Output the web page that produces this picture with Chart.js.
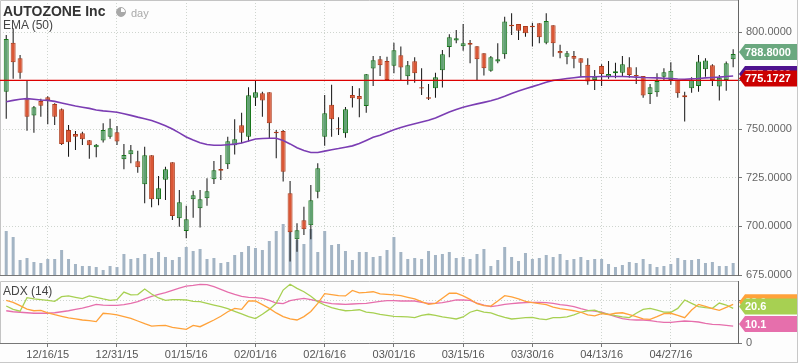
<!DOCTYPE html>
<html>
<head>
<meta charset="utf-8">
<script src="https://cdn.jsdelivr.net/npm/chart.js@4.4.1/dist/chart.umd.min.js"></script>
<style>
    html, body { margin: 0; padding: 0; background: #fff; }
    #wrap {
        position: relative; width: 798px; height: 363px; overflow: hidden;
        background: #fdfdfd; box-sizing: border-box;
        border-right: 1px solid #c8c8c8; border-bottom: 1px solid #c8c8c8;
    }
    canvas { position: absolute; left: 0; }
    #PriceChart { top: 0; }
    #AdxChart { top: 278px; }
    .lbl { position: absolute; font-family: "Liberation Sans", Arial, sans-serif; white-space: nowrap; }
    .clock {
        position: absolute; left: 116px; top: 7px; width: 8px; height: 8px; border-radius: 50%;
        border: 1.5px solid #a8a8a8; background: conic-gradient(#fdfdfd 0 25%, #a8a8a8 25% 100%);
    }
</style>
</head>
<body>
<div id="wrap">
    <canvas id="PriceChart" width="798" height="278"></canvas>
    <canvas id="AdxChart" width="798" height="85"></canvas>
    <div class="lbl" style="left:3px;top:3px;font-weight:bold;font-size:14px;line-height:16px;color:#333;">AUTOZONE Inc</div>
    <div class="clock"></div>
    <div class="lbl" style="left:131px;top:5px;font-size:11px;line-height:16px;color:#aaa;">day</div>
    <div class="lbl" style="left:3px;top:18px;font-size:12px;line-height:14px;color:#444;">EMA (50)</div>
    <div class="lbl" style="left:3px;top:284px;font-size:12px;line-height:14px;color:#444;">ADX (14)</div>
</div>
<script>
// trading day index of each date label
const tickIdx = [6, 16, 26, 36, 46, 56, 66, 76, 86, 96];
const tickLabels = ["12/16/15", "12/31/15", "01/15/16", "02/01/16", "02/16/16",
    "03/01/16", "03/15/16", "03/30/16", "04/13/16", "04/27/16"];
const priceTicks = [675, 700, 725, 750, 775, 800];
const adxTicks = [0, 25];

const open = [769.4, 794.6, 786.6, 765.5, 757.1, 764.6, 766.5, 763.1, 760.4, 749.7,
    747.6, 748.0, 744.4, 740.8, 744.2, 746.2, 748.5, 734.6, 737.2, 733.6,
    721.7, 736.7, 714.0, 724.0, 733.1, 704.2, 697.7, 714.0, 709.4, 714.5,
    724.3, 729.6, 732.0, 741.8, 752.1, 746.2, 766.3, 768.6, 769.1, 748.7,
    749.2, 717.1, 693.4, 703.2, 700.6, 717.9, 746.2, 762.6, 750.6, 748.0,
    767.7, 767.2, 762.0, 781.3, 786.1, 785.2, 782.8, 788.2, 777.3, 785.1,
    771.7, 766.5, 771.2, 780.4, 792.4, 795.7, 792.8, 794.5, 792.8, 789.2,
    780.2, 784.9, 788.7, 803.8, 804.3, 803.2, 803.4, 804.6, 794.6, 803.6,
    790.4, 787.4, 787.8, 786.6, 783.2, 775.4, 782.6, 777.1, 778.9, 779.2,
    782.0, 778.0, 777.5, 768.2, 769.1, 777.1, 775.4, 775.4, 767.6, 771.2,
    772.3, 780.9, 783.0, 772.0, 775.4, 786.1];
const high = [798.6, 802.1, 788.3, 775.1, 762.0, 765.7, 767.0, 763.4, 760.7, 752.3,
    749.2, 748.8, 744.5, 742.5, 753.1, 755.4, 751.7, 742.5, 742.0, 739.0,
    741.1, 736.7, 726.0, 730.8, 733.1, 718.8, 710.6, 718.4, 718.8, 724.8,
    733.7, 736.8, 746.2, 755.2, 758.6, 771.7, 775.3, 769.4, 769.1, 749.7,
    749.7, 723.4, 701.6, 710.2, 721.4, 732.5, 767.7, 772.9, 756.2, 761.5,
    772.3, 771.2, 778.5, 787.8, 787.8, 787.4, 794.6, 792.6, 785.2, 787.1,
    781.5, 773.4, 779.2, 790.9, 799.0, 801.2, 804.3, 796.0, 792.8, 789.2,
    787.8, 794.3, 808.0, 809.8, 804.3, 803.2, 804.9, 804.6, 809.8, 803.6,
    793.5, 790.4, 790.4, 786.6, 786.6, 780.6, 783.5, 785.2, 784.3, 787.8,
    787.1, 782.0, 777.5, 773.4, 778.9, 781.5, 784.6, 775.4, 769.3, 776.8,
    788.3, 786.6, 783.5, 778.0, 784.9, 791.2];
const low = [755.4, 776.0, 776.0, 749.3, 748.3, 756.5, 752.6, 752.3, 742.0, 735.9,
    739.4, 742.0, 734.9, 735.6, 743.2, 745.1, 742.0, 729.5, 732.5, 727.7,
    711.9, 709.9, 710.9, 713.6, 703.3, 699.9, 693.9, 704.5, 699.4, 710.7,
    721.9, 723.9, 729.6, 737.0, 742.8, 743.7, 762.0, 756.5, 745.4, 735.1,
    723.1, 681.9, 687.0, 695.6, 693.4, 714.5, 741.5, 746.2, 747.1, 745.7,
    761.3, 756.2, 758.6, 772.3, 777.5, 775.2, 778.9, 775.4, 773.0, 774.0,
    767.7, 765.1, 766.3, 771.5, 787.1, 794.3, 790.5, 784.0, 775.4, 777.7,
    779.7, 784.0, 786.3, 798.6, 796.0, 797.7, 792.6, 794.3, 793.8, 787.4,
    786.6, 783.5, 781.5, 777.1, 772.9, 770.3, 772.3, 776.0, 776.3, 777.1,
    776.6, 773.4, 766.3, 763.1, 766.8, 775.4, 772.9, 766.3, 754.0, 768.9,
    769.4, 777.1, 772.3, 764.8, 769.9, 782.0];
const close = [796.5, 784.6, 779.2, 756.5, 761.4, 762.2, 765.0, 756.5, 742.5, 743.4,
    746.2, 744.9, 741.8, 742.1, 749.7, 750.6, 743.7, 736.8, 739.2, 730.5,
    736.7, 714.0, 719.7, 729.5, 705.4, 712.5, 703.7, 716.1, 714.0, 718.1,
    728.9, 728.7, 743.9, 744.9, 748.3, 767.6, 769.1, 764.8, 753.1, 748.0,
    728.2, 697.0, 698.0, 698.6, 713.5, 730.0, 758.3, 755.2, 750.1, 760.4,
    766.0, 765.5, 778.4, 785.6, 783.0, 775.4, 790.7, 781.8, 783.0, 778.9,
    771.0, 765.8, 776.8, 788.7, 797.4, 796.9, 794.3, 793.6, 786.1, 781.5,
    787.1, 786.1, 805.5, 803.1, 800.8, 799.5, 802.6, 797.4, 805.8, 794.3,
    789.2, 789.2, 786.4, 784.3, 774.6, 777.1, 778.5, 778.5, 779.9, 783.5,
    778.0, 777.5, 767.4, 771.7, 774.9, 779.4, 780.2, 768.6, 766.5, 775.4,
    784.9, 785.4, 775.4, 776.6, 784.0, 788.8];
// thousands of shares
const volume = [880, 760, 300, 340, 260, 240, 320, 320, 500, 320,
    220, 180, 180, 160, 100, 180, 160, 420, 320, 340,
    420, 340, 460, 360, 300, 360, 560, 480, 520, 320,
    340, 240, 260, 400, 460, 580, 540, 500, 680, 880,
    1020, 900, 700, 620, 920, 460, 880, 600, 620, 480,
    300, 460, 460, 360, 380, 500, 760, 460, 320, 340,
    320, 480, 400, 420, 460, 340, 360, 320, 420, 520,
    180, 300, 560, 360, 280, 440, 320, 340, 400, 360,
    420, 300, 320, 360, 300, 320, 320, 220, 160, 200,
    260, 240, 320, 220, 160, 180, 220, 340, 300, 300,
    320, 240, 260, 180, 180, 240];
const ema50 = [764.2, 764.9, 765.5, 765.8, 765.5, 765.1, 764.9, 764.4, 763.6, 762.8,
    762.0, 761.4, 760.8, 760.0, 759.5, 759.2, 758.8, 758.0, 757.2, 756.3,
    755.5, 754.5, 753.3, 751.9, 750.2, 748.2, 746.1, 744.5, 743.1, 742.2,
    741.8, 741.8, 742.1, 742.4, 743.0, 744.0, 745.0, 745.3, 745.4, 745.4,
    744.2, 742.5, 740.5, 739.1, 738.1, 738.1, 738.8, 739.5, 740.1, 740.8,
    741.5, 742.7, 744.3, 745.9, 747.0, 748.4, 749.8, 751.0, 752.0, 752.9,
    753.8, 754.7, 755.9, 757.4, 758.9, 760.2, 761.4, 762.3, 763.1, 763.9,
    764.7, 765.8, 767.0, 768.5, 769.8, 770.9, 772.0, 773.1, 774.3, 775.2,
    775.7, 776.2, 776.6, 777.0, 777.1, 777.1, 777.2, 777.2, 777.2, 777.2,
    777.1, 776.9, 776.7, 776.6, 776.5, 776.3, 776.1, 775.9, 775.8, 776.0,
    776.2, 776.5, 776.7, 776.9, 777.2, 777.5];
const refLevel = 775.1727;

const adxOrange = [25.4, 24.2, 22.2, 20.2, 19.2, 19.4, 18.0, 16.9, 15.9, 14.9,
    14.3, 13.7, 13.3, 12.7, 17.7, 17.3, 16.7, 15.7, 14.7, 13.1,
    11.5, 10.1, 10.3, 10.5, 9.3, 8.7, 8.1, 10.5, 9.7, 11.7,
    13.7, 15.9, 18.6, 20.6, 20.0, 25.0, 25.0, 22.8, 20.6, 17.9,
    15.7, 14.3, 13.7, 15.7, 18.8, 23.6, 29.4, 28.8, 28.2, 28.0,
    31.3, 29.8, 30.1, 30.5, 29.2, 29.0, 28.6, 28.2, 27.2, 26.2,
    24.6, 23.0, 23.6, 26.6, 29.6, 29.6, 28.0, 26.0, 23.4, 22.2,
    22.0, 25.0, 28.2, 27.4, 26.2, 24.8, 24.0, 23.4, 22.8, 21.4,
    20.4, 19.8, 19.2, 18.3, 16.7, 16.1, 17.5, 16.9, 17.7, 18.0,
    16.9, 15.7, 14.3, 14.1, 15.7, 17.5, 17.7, 16.5, 15.1, 19.6,
    23.0, 21.8, 20.4, 19.4, 21.2, 23.0];
const adxGreen = [22.0, 20.0, 18.9, 27.0, 26.2, 25.8, 25.4, 24.8, 27.6, 28.0,
    27.2, 26.4, 28.0, 27.2, 26.2, 25.4, 25.8, 30.3, 28.6, 28.8,
    32.1, 29.2, 26.8, 25.4, 25.8, 25.8, 25.6, 24.8, 24.6, 23.6,
    22.6, 21.6, 20.4, 18.8, 17.3, 15.7, 14.5, 17.1, 20.0, 23.6,
    31.5, 35.0, 32.5, 30.5, 27.8, 24.6, 22.6, 21.0, 20.0, 19.2,
    19.4, 19.8, 18.4, 17.9, 17.1, 16.5, 15.9, 15.7, 15.5, 15.1,
    16.5, 17.1, 16.5, 15.5, 14.9, 14.3, 15.5, 18.3, 19.6, 18.4,
    17.9, 16.5, 15.3, 14.3, 14.7, 15.1, 15.3, 14.3, 13.9, 15.1,
    15.1, 15.5, 16.7, 18.3, 19.2, 19.6, 17.9, 17.1, 16.3, 15.5,
    15.1, 17.7, 20.0, 20.6, 19.6, 18.4, 18.3, 20.6, 25.6, 23.6,
    21.6, 21.0, 20.6, 23.8, 22.6, 20.6];
const adxPink = [19.2, 18.6, 18.3, 18.0, 17.7, 17.7, 17.7, 18.0, 18.6, 19.2,
    20.0, 20.8, 21.8, 23.0, 22.6, 22.4, 22.4, 22.8, 23.6, 24.6,
    26.2, 27.8, 29.0, 30.0, 31.3, 32.7, 33.9, 34.3, 34.9, 34.7,
    33.5, 31.9, 30.3, 29.0, 27.8, 27.2, 27.0, 26.6, 25.4, 23.8,
    23.4, 25.2, 26.0, 26.6, 25.8, 25.0, 24.2, 23.4, 23.2, 23.0,
    23.2, 23.4, 23.6, 24.2, 24.8, 25.2, 25.2, 25.0, 25.0, 25.0,
    24.2, 23.6, 23.6, 24.0, 24.8, 25.6, 25.6, 25.4, 23.8, 22.6,
    21.6, 22.2, 23.0, 23.4, 23.8, 24.0, 24.2, 24.2, 24.0, 23.6,
    22.8, 22.4, 21.6, 20.4, 19.4, 19.0, 18.3, 17.1, 15.7, 14.5,
    13.9, 13.7, 13.7, 13.3, 12.7, 12.3, 12.3, 12.7, 13.1, 12.9,
    12.5, 11.7, 11.1, 10.9, 10.5, 10.1];

const X_MIN = -0.9;
const X_MAX = 105.7;
const FONT = '"Liberation Sans", Arial, sans-serif';
const UP_FILL = "#62a173", UP_LINE = "#17761a";
const DN_FILL = "#da5736", DN_LINE = "#ad3b1b";

Chart.defaults.font.family = FONT;

const idx = close.map((c, i) => i);
const isUp = i => close[i] >= open[i];
const last = close.length - 1;

// left + top edge of each panel
const framePlugin = {
    id: "frame",
    beforeDatasetsDraw(chart) {
        const { ctx, chartArea: a } = chart;
        ctx.save();
        ctx.strokeStyle = "#c4c4c4";
        ctx.lineWidth = 1;
        ctx.beginPath();
        ctx.moveTo(a.left + 0.5, a.bottom);
        ctx.lineTo(a.left + 0.5, a.top + 0.5);
        ctx.lineTo(a.right, a.top + 0.5);
        ctx.stroke();
        ctx.restore();
    },
};

// value tags on the right axis
const tagPlugin = {
    id: "tags",
    afterDraw(chart, args, opts) {
        const { ctx, chartArea } = chart;
        const yScale = chart.scales.y;
        (opts.items || []).forEach(t => {
            const py = yScale.getPixelForValue(t.value) - 2;
            const x0 = chartArea.right + 1, x1 = chart.width, h = 16;
            ctx.save();
            ctx.fillStyle = t.color;
            ctx.beginPath();
            ctx.moveTo(x0, py);
            ctx.lineTo(x0 + 6, py - h / 2);
            ctx.lineTo(x1, py - h / 2);
            ctx.lineTo(x1, py + h / 2);
            ctx.lineTo(x0 + 6, py + h / 2);
            ctx.closePath();
            ctx.fill();
            ctx.fillStyle = "#fff";
            ctx.font = "bold 11px " + FONT;
            ctx.textBaseline = "middle";
            ctx.fillText(t.text, x0 + 6, py + 1);
            ctx.restore();
        });
    },
};

function dateAxis(showLabels) {
    return {
        type: "linear",
        min: X_MIN,
        max: X_MAX,
        offset: false,
        afterBuildTicks: s => { s.ticks = tickIdx.map(v => ({ value: v })); },
        afterFit: s => {
            s.height = showLabels ? 20 : 0;
            s.paddingLeft = 0;
            s.paddingRight = 0;
        },
        ticks: {
            display: showLabels,
            autoSkip: false,
            maxRotation: 0,
            padding: 1,
            color: "#555",
            font: { size: 11 },
            callback: v => tickLabels[tickIdx.indexOf(v)] || "",
        },
        grid: {
            offset: false,
            color: "#cfd5cf",
            drawTicks: showLabels,
            tickLength: 4,
            tickColor: "#777",
            tickBorderDash: [],
        },
        border: { display: true, color: "#777", dash: [1, 2] },
    };
}

function valueAxis(min, max, ticks, digits) {
    return {
        position: "right",
        min: min,
        max: max,
        beginAtZero: false,
        afterBuildTicks: s => { s.ticks = ticks.map(v => ({ value: v })); },
        afterFit: s => {
            s.width = 60;
            s.paddingTop = 0;
            s.paddingBottom = 0;
        },
        ticks: {
            padding: 4,
            color: "#666",
            font: { size: 11 },
            callback: v => v.toFixed(digits),
        },
        grid: {
            color: "#cfd5cf",
            tickLength: 4,
            tickColor: "#777",
            tickBorderDash: [],
        },
        border: { display: true, color: "#666", dash: [1, 2] },
    };
}

function PriceChart() {
    const ctx = document.getElementById("PriceChart");

    new Chart(ctx, {
        type: "bar",
        data: {
            datasets: [
                {
                    type: "bar",
                    label: "Volume",
                    data: idx.map(i => ({ x: i, y: volume[i] })),
                    yAxisID: "vol",
                    backgroundColor: "#a3b4c4",
                    grouped: false,
                    maxBarThickness: 3,
                    order: 6,
                },
                {
                    type: "bar",
                    label: "Wick",
                    data: idx.map(i => ({ x: i, y: [low[i], high[i]] })),
                    backgroundColor: "#111",
                    grouped: false,
                    maxBarThickness: 1,
                    order: 4,
                },
                {
                    type: "bar",
                    label: "Body",
                    data: idx.map(i => ({ x: i, y: [open[i], close[i]] })),
                    backgroundColor: c => isUp(c.dataIndex) ? UP_FILL : DN_FILL,
                    borderColor: c => isUp(c.dataIndex) ? UP_LINE : DN_LINE,
                    borderWidth: 1,
                    borderSkipped: false,
                    grouped: false,
                    maxBarThickness: 5,
                    order: 3,
                },
                {
                    type: "line",
                    label: "EMA (50)",
                    data: idx.map(i => ({ x: i, y: ema50[i] })),
                    borderColor: "#7b3db3",
                    borderWidth: 1.6,
                    pointRadius: 0,
                    order: 2,
                },
                {
                    type: "line",
                    label: "Level",
                    data: [{ x: X_MIN, y: refLevel }, { x: X_MAX, y: refLevel }],
                    borderColor: "#dd0000",
                    borderWidth: 1.3,
                    pointRadius: 0,
                    order: 1,
                },
            ],
        },
        options: {
            responsive: false,
            animation: false,
            layout: { padding: { left: 0, top: 0, right: 0, bottom: 3 } },
            scales: {
                x: dateAxis(false),
                y: valueAxis(675, 816.6, priceTicks, 4),
                vol: { display: false, min: 0, max: 5500 },
            },
            plugins: {
                legend: { display: false },
                tooltip: { enabled: false },
                tags: {
                    items: [
                        { value: ema50[last], text: ema50[last].toFixed(4), color: "#4f138f" },
                        { value: refLevel, text: refLevel.toFixed(4), color: "#cc0000" },
                        { value: close[last], text: close[last].toFixed(4), color: isUp(last) ? "#6aa87f" : DN_FILL },
                    ],
                },
            },
        },
        plugins: [framePlugin, tagPlugin],
    });
}

function AdxChart() {
    const ctx = document.getElementById("AdxChart");
    const line = (data, color) => ({
        data: idx.map(i => ({ x: i, y: data[i] })),
        borderColor: color,
        borderWidth: 1.3,
        pointRadius: 0,
    });

    new Chart(ctx, {
        type: "line",
        data: {
            datasets: [
                line(adxOrange, "#ffa23a"),
                line(adxGreen, "#a7d052"),
                line(adxPink, "#e66fac"),
            ],
        },
        options: {
            responsive: false,
            animation: false,
            layout: { padding: { left: 0, top: 3, right: 0, bottom: 0 } },
            scales: {
                x: dateAxis(true),
                y: valueAxis(0, 36.9, adxTicks, 0),
            },
            plugins: {
                legend: { display: false },
                tooltip: { enabled: false },
                tags: {
                    items: [
                        { value: adxOrange[last], text: adxOrange[last].toFixed(1), color: "#ffa23a" },
                        { value: adxGreen[last], text: adxGreen[last].toFixed(1), color: "#a7d052" },
                        { value: adxPink[last], text: adxPink[last].toFixed(1), color: "#e66fac" },
                    ],
                },
            },
        },
        plugins: [framePlugin, tagPlugin],
    });
}

PriceChart()
AdxChart()
</script>
</body>
</html>
